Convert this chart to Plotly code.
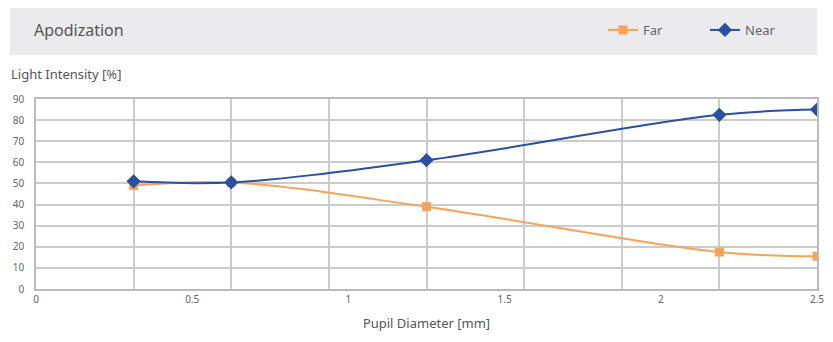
import plotly.graph_objects as go

pupil_mm = [0.3125, 0.625, 1.25, 2.1875, 2.5]
far_vals = [49, 50.5, 39, 17.5, 15.5]
near_vals = [51, 50.5, 61, 82.5, 85]
x_tick_vals = [0, 0.5, 1, 1.5, 2, 2.5]
x_tick_text = ["0", "0.5", "1", "1.5", "2", "2.5"]
y_tick_vals = [0, 10, 20, 30, 40, 50, 60, 70, 80, 90]

FONT = "Noto Sans"
fig = go.Figure()
fig.add_trace(go.Scatter(
    x=pupil_mm, y=far_vals, name="Far", mode="lines+markers",
    line=dict(color="#F7A35C", width=2, shape="spline", smoothing=1),
    marker=dict(symbol="square", size=9, color="#F7A35C"),
))
fig.add_trace(go.Scatter(
    x=pupil_mm, y=near_vals, name="Near", mode="lines+markers",
    line=dict(color="#2A50A0", width=2, shape="spline", smoothing=1),
    marker=dict(symbol="diamond", size=11, color="#2A50A0"),
))

OFF = 8  # page body margin
W, H = 833 - OFF, 342 - OFF
# target plot area in page coords: x 36..817, y 99..289
L, T = 36 - OFF, 99 - OFF
R = W - (817 - OFF)
B = H - (289 - OFF)
pw, ph = W - L - R, H - T - B

def px(xp):
    return (xp - OFF - L) / pw

def py(yp):
    return (H - B - (yp - OFF)) / ph

fig.update_layout(
    width=W, height=H,
    margin=dict(l=L, r=R, t=T, b=B, autoexpand=False),
    paper_bgcolor="white", plot_bgcolor="white",
    font=dict(family=FONT, color="#666666", size=10),
    showlegend=True,
    legend=dict(orientation="h", x=px(603), y=py(30), xanchor="left", yanchor="middle",
                font=dict(size=13, color="#666666"), bgcolor="rgba(0,0,0,0)",
                entrywidth=57, entrywidthmode="pixels", tracegroupgap=0),
    xaxis=dict(range=[0, 2.5], tickmode="array", tickvals=x_tick_vals, ticktext=x_tick_text,
               showgrid=False, zeroline=False, showline=True, mirror=True,
               linecolor="#bbbbbb", linewidth=1.5, ticks="",
               tickfont=dict(size=10, color="#666666"),
               minor=dict(tickmode="linear", tick0=0, dtick=0.3125, showgrid=True,
                          gridcolor="#cccccc", gridwidth=1.5, ticks=""),
               title=dict(text="Pupil Diameter [mm]", font=dict(size=13, color="#555555"), standoff=14)),
    yaxis=dict(range=[0, 90], tickvals=y_tick_vals, showgrid=True, gridcolor="#cccccc", gridwidth=1.5,
               zeroline=False, showline=True, mirror=True, linecolor="#bbbbbb", linewidth=1.5,
               ticks="", tickfont=dict(size=10, color="#666666"), ticklabelstandoff=8),
    shapes=[dict(type="rect", xref="paper", yref="paper", x0=px(10), x1=px(817), y0=py(55), y1=py(6),
                 fillcolor="#EBEBED", line=dict(width=0), layer="below")],
    annotations=[
        dict(text="Apodization", xref="paper", yref="paper", x=px(32), y=py(30), xanchor="left",
             yanchor="middle", showarrow=False, font=dict(size=16, color="#555555", family=FONT)),
        dict(text="Light Intensity [%]", xref="paper", yref="paper", x=px(9), y=py(74), xanchor="left",
             yanchor="middle", showarrow=False, font=dict(size=13, color="#555555", family=FONT)),
    ],
)
fig.write_html("out.html")
